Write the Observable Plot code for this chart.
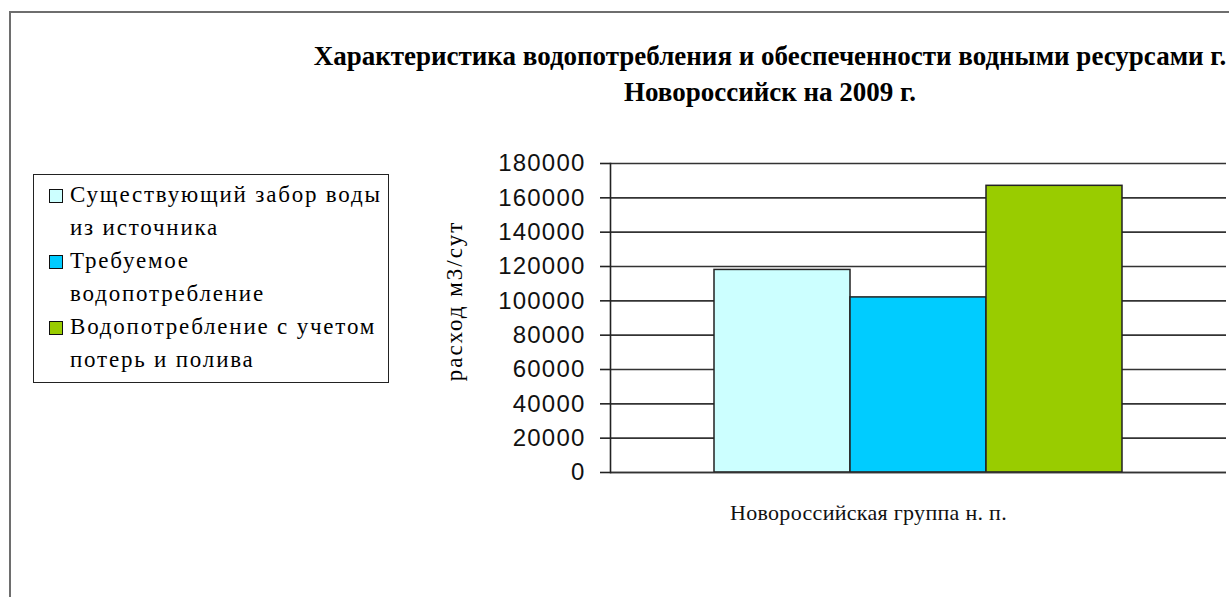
<!DOCTYPE html>
<html>
<head>
<meta charset="utf-8">
<script src="https://cdn.jsdelivr.net/npm/d3@7"></script>
<script src="https://cdn.jsdelivr.net/npm/@observablehq/plot@0.6"></script>
<style>
  html, body { margin: 0; padding: 0; background: #fff; }
  #wrap { position: relative; width: 1229px; height: 597px; overflow: hidden; background: #fff; }
  #border { position: absolute; left: 9px; top: 11px; width: 1240px; height: 600px; border-left: 2px solid #6e6e6e; border-top: 2px solid #6e6e6e; box-sizing: border-box; }
  #title { position: absolute; left: 290px; width: 960px; top: 38px; text-align: center; font-family: "Liberation Serif", "Times New Roman", serif; font-weight: bold; font-size: 27px; line-height: 36px; color: #000; white-space: nowrap; }
  #legend { position: absolute; left: 33px; top: 174px; width: 356px; height: 209px; box-sizing: border-box; border: 1.5px solid #222; background: #fff; padding: 3px 0 0 0; font-family: "Liberation Serif", "Times New Roman", serif; font-size: 23px; letter-spacing: 1.8px; line-height: 33px; color: #000; white-space: nowrap; }
  .item { position: relative; padding-left: 36px; }
  .sw { position: absolute; left: 15px; top: 11px; width: 12px; height: 12px; border: 1px solid #111; }
  #ylabel { position: absolute; left: 455px; top: 301px; transform: translate(-50%, -50%) rotate(-90deg); white-space: nowrap; font-family: "Liberation Serif", "Times New Roman", serif; font-size: 23px; letter-spacing: 2px; color: #000; }
  svg { position: absolute; left: 0; top: 0; }
  svg .ytick text { letter-spacing: 1.2px; }
  svg .fxlab text { letter-spacing: 0.3px; }
</style>
</head>
<body>
<div id="wrap"></div>
<script>
const categories = ["Новороссийская группа н. п."];
const seriesNames = [
  "Существующий забор воды из источника",
  "Требуемое водопотребление",
  "Водопотребление с учетом потерь и полива"
];
const legendLines = [
  ["Существующий забор воды", "из источника"],
  ["Требуемое", "водопотребление"],
  ["Водопотребление с учетом", "потерь и полива"]
];
const values = [118000, 102000, 167000];
const colors = ["#CCFFFF", "#00CCFF", "#99CC00"];
const yTicks = [0, 20000, 40000, 60000, 80000, 100000, 120000, 140000, 160000, 180000];
const titleLines = ["Характеристика водопотребления и обеспеченности водными ресурсами г.", "Новороссийск на 2009 г."];
const yLabel = "расход м3/сут";

const data = seriesNames.map((s, i) => ({category: categories[0], series: s, value: values[i]}));

const chart = Plot.plot({
  width: 1229,
  height: 597,
  marginLeft: 610,
  marginRight: 3,
  marginTop: 163,
  marginBottom: 125,
  style: {background: "transparent", overflow: "visible"},
  x: {domain: seriesNames, paddingInner: 0, paddingOuter: 0.75, axis: null},
  fx: {domain: categories, padding: 0, axis: null},
  y: {domain: [0, 180000], ticks: yTicks, axis: null},
  color: {domain: seriesNames, range: colors},
  marks: [
    Plot.gridY(yTicks, {stroke: "#333", strokeOpacity: 1, strokeWidth: 1.6}),
    Plot.barY(data, {fx: "category", x: "series", y: "value", fill: "series", stroke: "#222", strokeWidth: 1.5}),
    Plot.ruleY([0], {stroke: "#333", strokeWidth: 1.6}),
    Plot.frame({anchor: "left", stroke: "#222", strokeWidth: 1.6}),
    Plot.axisY(yTicks, {
      className: "ytick",
      tickSize: 10, tickPadding: 15, fontSize: 24, fontFamily: "Liberation Sans, Arial, sans-serif",
      tickFormat: d => String(d), label: null, stroke: "#222", strokeWidth: 1.6, fill: "#111"
    }),
    Plot.axisFx({
      className: "fxlab",
      anchor: "bottom", tickSize: 0, tickPadding: 32, dx: -50, label: null,
      fontSize: 22, fontFamily: "Liberation Serif, Times New Roman, serif", fill: "#111"
    })
  ]
});

const wrap = document.getElementById("wrap");
wrap.appendChild(chart);

const border = document.createElement("div");
border.id = "border";
wrap.appendChild(border);

const title = document.createElement("div");
title.id = "title";
title.innerHTML = titleLines.map(t => `<div>${t}</div>`).join("");
wrap.appendChild(title);

const yl = document.createElement("div");
yl.id = "ylabel";
yl.textContent = yLabel;
wrap.appendChild(yl);

const legend = document.createElement("div");
legend.id = "legend";
legendLines.forEach((lines, i) => {
  const it = document.createElement("div");
  it.className = "item";
  it.innerHTML = `<span class="sw" style="background:${colors[i]}"></span>${lines.join("<br>")}`;
  legend.appendChild(it);
});
wrap.appendChild(legend);
</script>
</body>
</html>
